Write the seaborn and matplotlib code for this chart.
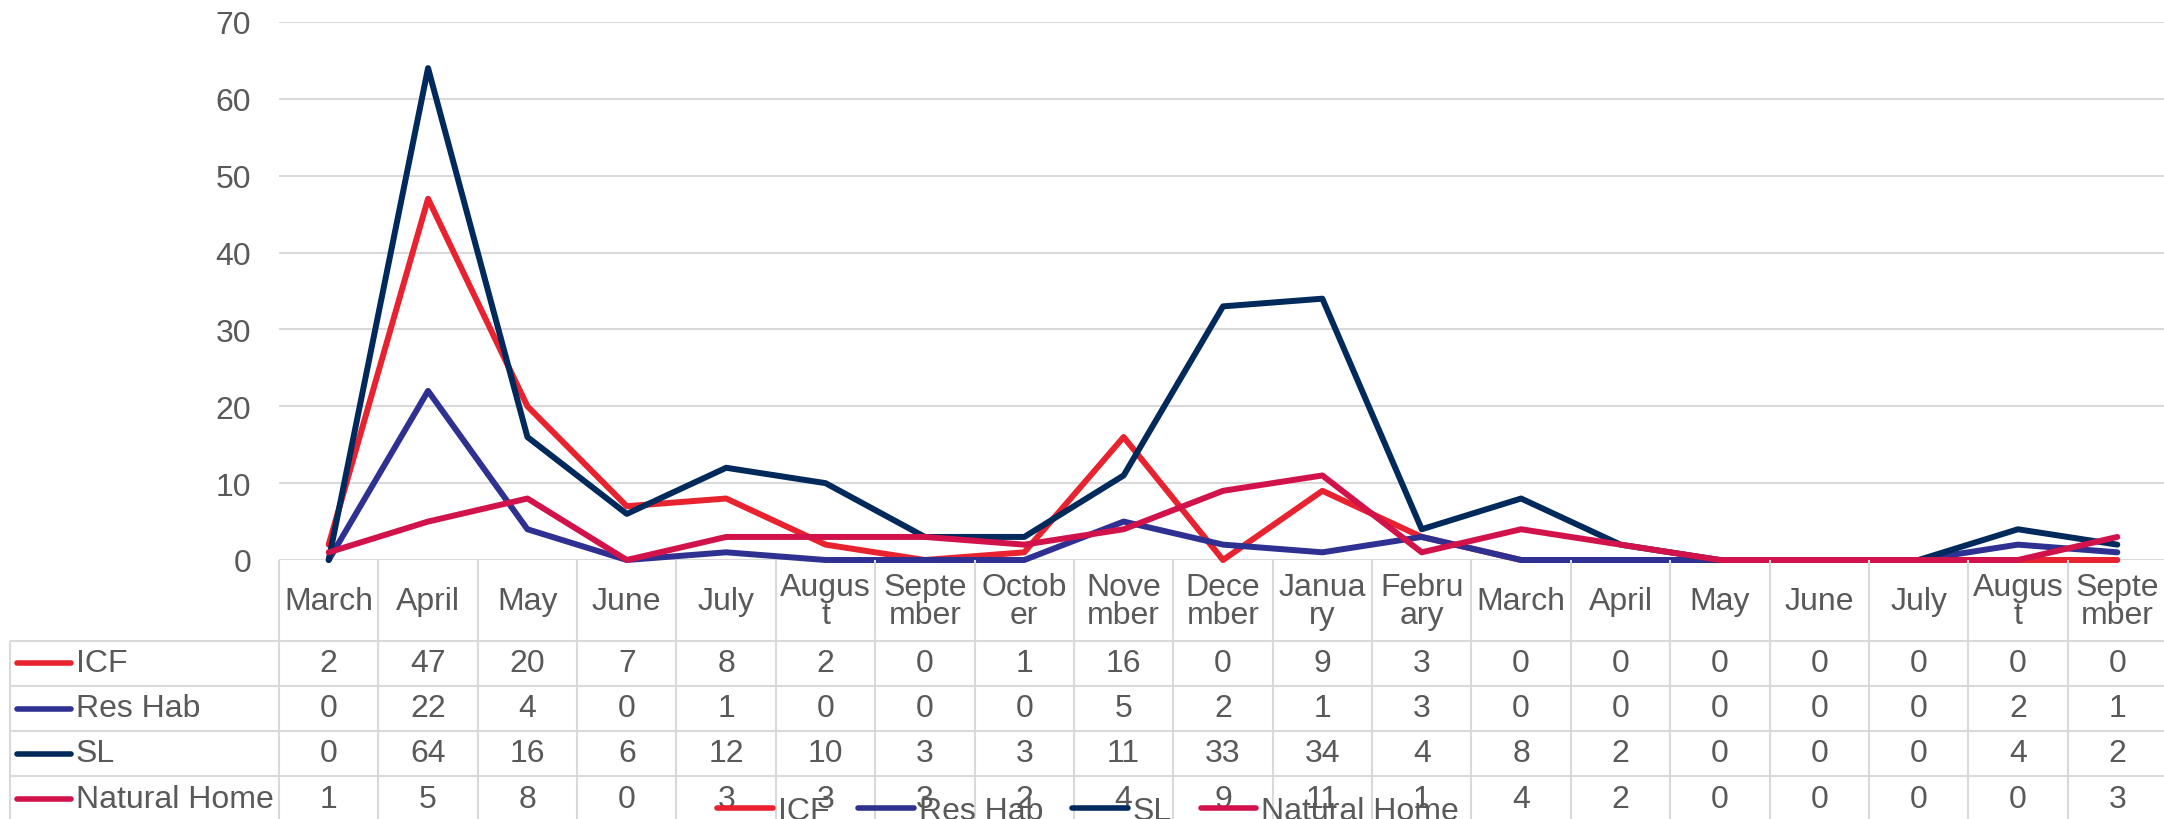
import numpy as np
import pandas as pd
import seaborn as sns
import matplotlib
matplotlib.use("Agg")
import matplotlib.pyplot as plt

months = ["March", "April", "May", "June", "July", "August", "September",
          "October", "November", "December", "January", "February",
          "March", "April", "May", "June", "July", "August", "September"]
# header cells as Excel wrapped them
header_labels = ["March", "April", "May", "June", "July", "Augus\nt", "Septe\nmber",
                 "Octob\ner", "Nove\nmber", "Dece\nmber", "Janua\nry", "Febru\nary",
                 "March", "April", "May", "June", "July", "Augus\nt", "Septe\nmber"]
series_names = ["ICF", "Res Hab", "SL", "Natural Home"]
icf = [2, 47, 20, 7, 8, 2, 0, 1, 16, 0, 9, 3, 0, 0, 0, 0, 0, 0, 0]
res_hab = [0, 22, 4, 0, 1, 0, 0, 0, 5, 2, 1, 3, 0, 0, 0, 0, 0, 2, 1]
sl = [0, 64, 16, 6, 12, 10, 3, 3, 11, 33, 34, 4, 8, 2, 0, 0, 0, 4, 2]
natural_home = [1, 5, 8, 0, 3, 3, 3, 2, 4, 9, 11, 1, 4, 2, 0, 0, 0, 0, 3]
colors = {"ICF": "#E8232F", "Res Hab": "#2E3192", "SL": "#00295C", "Natural Home": "#D2124A"}

TEXT = "#595959"
GRID = "#D9D9D9"
FS = 23


def main():
    sns.set_style("white")
    plt.rcParams["font.family"] = ["Liberation Sans", "DejaVu Sans"]

    values = [icf, res_hab, sl, natural_home]
    df = pd.concat([pd.DataFrame({"idx": range(len(months)), "month": months,
                                  "series": name, "value": v})
                    for name, v in zip(series_names, values)], ignore_index=True)

    fig = plt.figure(figsize=(21.64, 8.2), dpi=100)
    W, H = 2164, 820
    left, right = 279, 2167
    ax = fig.add_axes([left / W, 1 - 561 / H, (right - left) / W, (561 - 23) / H])

    sns.lineplot(data=df, x="idx", y="value", hue="series", hue_order=series_names,
                 palette=colors, linewidth=4.3, sort=False, ax=ax, legend=True)
    for ln in ax.lines:
        ln.set_clip_on(False)
        ln.set_solid_joinstyle("round")
        ln.set_solid_capstyle("round")
    handles, labels = ax.get_legend_handles_labels()
    ax.get_legend().remove()

    ax.set_xlim(-0.5, len(months) - 0.5)
    ax.set_ylim(0, 70)
    ax.set_yticks(range(0, 71, 10))
    ax.set_xticks([])
    ax.set_xlabel("")
    ax.set_ylabel("")
    ax.grid(axis="y", color=GRID, linewidth=1.5)
    ax.set_axisbelow(True)
    for s in ax.spines.values():
        s.set_visible(False)
    ax.tick_params(axis="y", length=0, pad=20, labelsize=FS, labelcolor=TEXT)

    # data table below the plot, y in pixels from the plot bottom
    tax = fig.add_axes([left / W, 0, (right - left) / W, (H - 561) / H], sharex=ax)
    tax.set_ylim(H - 561, 0)
    tax.axis("off")
    n = len(months)
    unit = (right - left) / n
    row_lines = [81, 126, 171, 216]
    tab_left = (10 - left) / unit - 0.5
    tax.vlines(np.arange(n + 1) - 0.5, 0, H - 561, color=GRID, linewidth=1.5, clip_on=False)
    tax.vlines(tab_left, row_lines[0], H - 561, color=GRID, linewidth=1.5, clip_on=False)
    tax.hlines(row_lines, tab_left, n - 0.5, color=GRID, linewidth=1.5, clip_on=False)

    for i, lab in enumerate(header_labels):
        tax.text(i, 41, lab, ha="center", va="center", fontsize=FS, color=TEXT,
                 linespacing=0.95)

    row_centers = [103, 148.5, 193.5, 239]
    for r, (name, v) in enumerate(zip(series_names, values)):
        y = row_centers[r]
        tax.plot([(17 - left) / unit - 0.5, (71 - left) / unit - 0.5], [y, y],
                 color=colors[name], linewidth=4, solid_capstyle="round", clip_on=False)
        tax.text((76 - left) / unit - 0.5, y, name, ha="left", va="center",
                 fontsize=FS, color=TEXT, clip_on=False)
        for i, val in enumerate(v):
            tax.text(i, y, str(val), ha="center", va="center", fontsize=FS, color=TEXT)

    leg = fig.legend(handles, labels, loc="center", bbox_to_anchor=(1088 / W, 1 - 812 / H),
                     ncol=4, frameon=False, fontsize=FS, handlelength=1.75,
                     handletextpad=0.15, columnspacing=0.9, borderaxespad=0,
                     borderpad=0)
    for t in leg.get_texts():
        t.set_color(TEXT)
    for h in leg.get_lines():
        h.set_linewidth(4)
        h.set_solid_capstyle("round")

    fig.savefig("out.png", dpi=100)


if __name__ == "__main__":
    main()
